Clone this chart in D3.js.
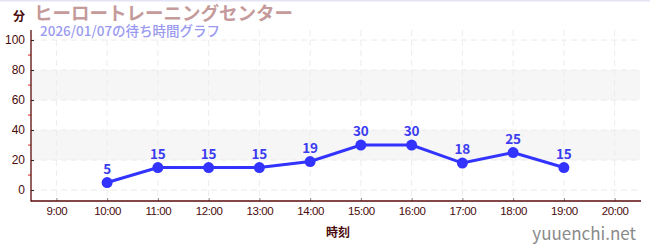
<!DOCTYPE html>
<html>
<head>
<meta charset="utf-8">
<script src="https://cdn.jsdelivr.net/npm/d3@7"></script>
<style>
body { margin: 0; background: #fff; }
svg { display: block; font-family: "Noto Sans CJK JP", "Noto Sans", sans-serif; }
</style>
</head>
<body>
<div class="chart"></div>
<script>
var hours = [10, 11, 12, 13, 14, 15, 16, 17, 18, 19];
var waits = [5, 15, 15, 15, 19, 30, 30, 18, 25, 15];
var hourTicks = [9, 10, 11, 12, 13, 14, 15, 16, 17, 18, 19, 20];
var yTicks = [0, 20, 40, 60, 80, 100];
var yMinor = [10, 30, 50, 70, 90];
var bands = [[20, 40], [60, 80]];

var svgWidth = 650;
var svgHeight = 250;
var plotLeft = 31, plotRight = 640, plotTop = 30, plotBottom = 201;

var svg = d3.select(".chart")
            .append("svg")
            .attr("width", svgWidth)
            .attr("height", svgHeight);

var x = d3.scaleLinear().domain([8.5, 20.5]).range([plotLeft, plotRight]);
var y = d3.scaleLinear().domain([-7.3, 106.7]).range([plotBottom, plotTop]);

// top border
svg.append("rect").attr("x", 0).attr("y", 0).attr("width", svgWidth).attr("height", 1.5).attr("fill", "#e4e4f6");

// bands
svg.selectAll("rect.band")
    .data(bands)
    .enter()
    .append("rect")
    .attr("class", "band")
    .attr("x", plotLeft)
    .attr("width", plotRight - plotLeft)
    .attr("y", function(d) { return y(d[1]); })
    .attr("height", function(d) { return y(d[0]) - y(d[1]); })
    .attr("fill", "#f6f6f6");

// grid
svg.selectAll("line.hgrid")
    .data(yTicks)
    .enter()
    .append("line")
    .attr("class", "hgrid")
    .attr("x1", plotLeft).attr("x2", plotRight)
    .attr("y1", function(d) { return y(d); })
    .attr("y2", function(d) { return y(d); })
    .attr("stroke", "#ececec")
    .attr("stroke-dasharray", "6,4");

svg.selectAll("line.vgrid")
    .data(hourTicks)
    .enter()
    .append("line")
    .attr("class", "vgrid")
    .attr("x1", function(d) { return x(d); })
    .attr("x2", function(d) { return x(d); })
    .attr("y1", plotTop).attr("y2", plotBottom)
    .attr("stroke", "#ececec")
    .attr("stroke-dasharray", "6,4");

// y axis
var yAxis = svg.append("g")
    .attr("transform", "translate(" + plotLeft + ",0)")
    .call(d3.axisLeft(y).tickValues(yTicks).tickSize(3).tickPadding(3));
yAxis.select(".domain").remove();
yAxis.selectAll(".tick line").attr("x2", 3).attr("stroke", "#222");
yAxis.selectAll("text").attr("fill", "#4a0a0a").attr("font-size", 12).attr("font-weight", 500);

svg.selectAll("line.minor")
    .data(yMinor)
    .enter()
    .append("line")
    .attr("class", "minor")
    .attr("x1", plotLeft - 3).attr("x2", plotLeft)
    .attr("y1", function(d) { return y(d); })
    .attr("y2", function(d) { return y(d); })
    .attr("stroke", "#e02020");

svg.append("line")
    .attr("x1", plotLeft).attr("x2", plotLeft)
    .attr("y1", plotTop).attr("y2", plotBottom + 0.5)
    .attr("stroke", "#5a0a0a").attr("stroke-width", 1.3);

// x axis
var xAxis = svg.append("g")
    .attr("transform", "translate(0," + plotBottom + ")")
    .call(d3.axisBottom(x).tickValues(hourTicks)
      .tickFormat(function(d) { return d + ":00"; })
      .tickSize(0).tickPadding(6));
xAxis.select(".domain").remove();
xAxis.selectAll("text").attr("fill", "#4a0a0a").attr("font-size", 11.5)
    .attr("font-weight", 500).attr("letter-spacing", "-0.4");
xAxis.selectAll(".tick").append("line")
    .attr("y1", -3).attr("y2", 0)
    .attr("stroke", "#888");

svg.append("line")
    .attr("x1", plotLeft).attr("x2", plotRight + 1)
    .attr("y1", plotBottom).attr("y2", plotBottom)
    .attr("stroke", "#5a0a0a").attr("stroke-width", 1.3);

// line + points
var line = d3.line()
    .x(function(d, i) { return x(hours[i]); })
    .y(function(d) { return y(d); });

svg.append("path")
    .datum(waits)
    .attr("d", line)
    .attr("fill", "none")
    .attr("stroke", "#3333ff")
    .attr("stroke-width", 3);

svg.selectAll("circle.pt")
    .data(waits)
    .enter()
    .append("circle")
    .attr("class", "pt")
    .attr("cx", function(d, i) { return x(hours[i]); })
    .attr("cy", function(d) { return y(d); })
    .attr("r", 5.5)
    .attr("fill", "#3333ff");

svg.selectAll("text.val")
    .data(waits)
    .enter()
    .append("text")
    .attr("class", "val")
    .text(function(d) { return d; })
    .attr("x", function(d, i) { return x(hours[i]); })
    .attr("y", function(d) { return y(d) - 9; })
    .attr("text-anchor", "middle")
    .attr("font-size", 13.5)
    .attr("font-weight", "bold")
    .attr("fill", "#3b3bf0");

// titles
svg.append("text").text("分")
    .attr("x", 13).attr("y", 21)
    .attr("font-size", 12).attr("font-weight", "bold").attr("fill", "#4a0a0a");
svg.append("text").text("ヒーロートレーニングセンター")
    .attr("x", 34).attr("y", 20)
    .attr("font-size", 18.5).attr("font-weight", "bold").attr("fill", "#c49a9a");
svg.append("text").text("2026/01/07の待ち時間グラフ")
    .attr("x", 40).attr("y", 36)
    .attr("font-size", 13.5).attr("font-weight", 500).attr("fill", "#9a9af0");

svg.append("text").text("時刻")
    .attr("x", 338).attr("y", 237)
    .attr("text-anchor", "middle")
    .attr("font-size", 12).attr("font-weight", "bold").attr("fill", "#4a0a0a");

svg.append("text").text("yuuenchi.net")
    .attr("x", 636).attr("y", 240)
    .attr("text-anchor", "end")
    .attr("font-size", 17).attr("fill", "#8a8a8a");
</script>
</body>
</html>
